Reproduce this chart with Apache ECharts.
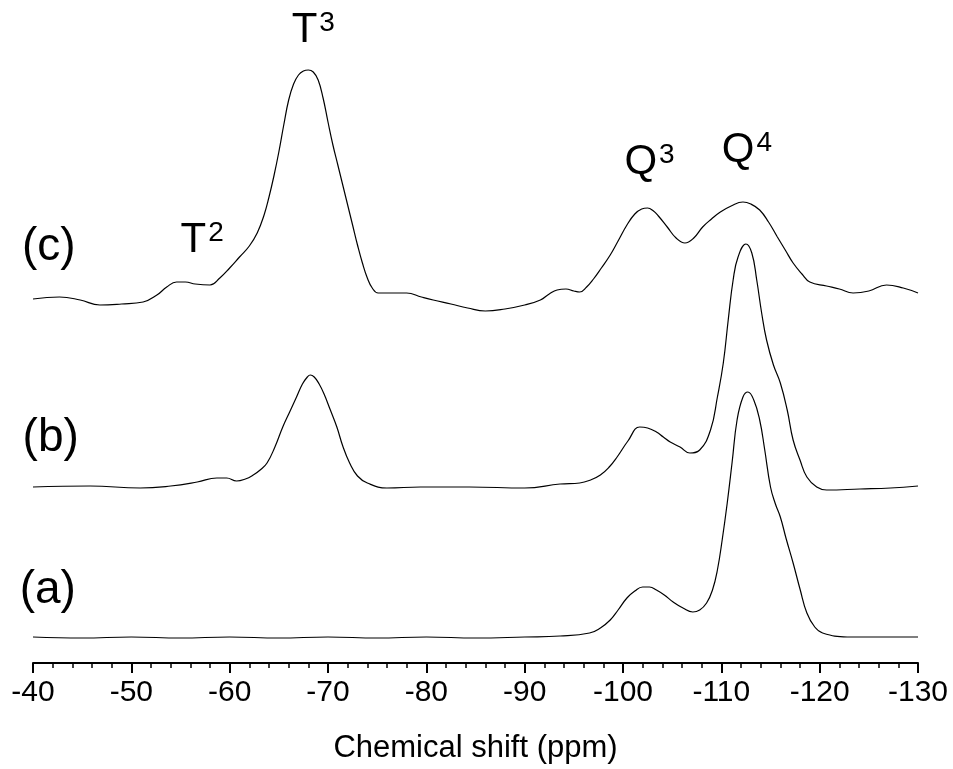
<!DOCTYPE html>
<html>
<head>
<meta charset="utf-8">
<script src="https://cdn.jsdelivr.net/npm/echarts@6/dist/echarts.min.js"></script>
<style>html,body{margin:0;padding:0;background:#fff;}#chart{width:953px;height:769px;}</style>
</head>
<body>
<div id="chart"></div>
<script>
// Chemical shift (ppm) and intensity (above each trace's baseline)
const shiftA = [-40,-45,-50,-55,-60,-65,-70,-75,-80,-85,-90,-93.6,-96.6,-97.7,-98.7,-99.5,-100.4,-101.2,-102,-102.7,-103.4,-104.2,-105.1,-106.1,-107.1,-107.8,-108.5,-109.1,-109.6,-110.1,-110.6,-111.1,-111.6,-112.2,-112.7,-113.3,-113.9,-114.4,-115,-115.5,-116,-116.6,-117.3,-118,-118.7,-119.5,-120.3,-122.8,-126,-130];
const intensityA = [0,-1,0,-1,0,-1,0,-1,0,-1,0,1,4,9,17,27,39,46,50,50,47,42,35,29,25,27,34,47,67,98,134,175,217,240,245,237,217,188,150,133,120,98,74,48,24,10,4,0,0,0];

const shiftB = [-40,-45.8,-50.9,-54,-56.7,-58.7,-59.7,-60.7,-61.6,-62.4,-63.1,-63.8,-64.6,-65.4,-66.1,-66.8,-67.4,-67.9,-68.2,-68.6,-69.1,-69.6,-70.2,-70.9,-71.5,-72.2,-73,-74,-76,-79.4,-84.4,-90,-93.6,-95.6,-96.7,-97.7,-98.6,-99.4,-100.5,-101.7,-102.5,-103.4,-104.1,-104.8,-105.8,-106.8,-107.8,-108.9,-109.6,-110.2,-110.7,-111.2,-111.7,-112.5,-113.1,-113.6,-114.1,-114.6,-115.3,-116,-116.7,-117.3,-118,-118.7,-119.7,-120.7,-124.1,-127.2,-130];
const intensityB = [1,2,0,2,6,10,10,7,9,13,18,25,41,61,76,91,104,111,113,111,104,94,79,61,42,25,12,5,0,1,1,0,4,5,8,13,21,31,47,61,60,56,51,46,41,35,38,58,91,125,168,208,231,244,235,208,175,148,123,105,78,48,28,11,1,-2,-1,0,2];

const shiftC = [-40,-42.7,-44.8,-46.8,-49,-51.2,-52.6,-53.6,-54.6,-55.5,-56.5,-58,-59,-60,-61,-62,-62.8,-63.5,-64,-64.5,-65,-65.5,-66,-66.5,-67,-67.5,-68,-68.5,-69,-69.5,-70,-70.5,-71,-71.5,-72,-72.5,-73,-73.5,-74,-74.5,-75.1,-76.5,-78,-79.5,-80.7,-82.5,-84.2,-86,-88,-90,-91.6,-92.5,-93.3,-94.2,-95,-95.6,-96.3,-97,-97.8,-98.7,-99.5,-100.4,-101.2,-101.9,-102.5,-103.1,-103.6,-104.5,-105.4,-106.3,-107.2,-108.1,-109,-109.9,-111,-112.2,-113,-113.9,-114.8,-115.7,-116.5,-117.3,-118.2,-119,-120.7,-122,-123.4,-125,-126.8,-128.5,-130];
const intensityC = [1,3,0,-5,-4,-2,5,13,18,18,16,15,22,32,43,54,67,85,103,124,148,175,200,216,225,229,230,228,220,202,178,155,135,115,95,75,55,37,22,12,7,7,7,3,0,-4,-8,-11,-9,-5,0,6,10,11,9,8,13,21,32,45,59,75,86,91,92,89,84,73,62,57,62,73,81,88,94,98,96,90,78,63,50,37,26,18,14,11,7,9,15,12,7];

// vertical stacking offsets of the three traces
const offsetA = 26, offsetB = 175, offsetC = 363;

const xTicks = {min: -130, max: -40, interval: 10};

// annotation labels: [text, shift, height]
const traceLabels = [['(a)', -41.5, 73], ['(b)', -41.8, 225], ['(c)', -41.6, 416]];
const peakLabels = [['T', '2', -57.2, 423], ['T', '3', -68.5, 633], ['Q', '3', -102.7, 501], ['Q', '4', -112.6, 513]];

function build(shift, inten, off) {
  return shift.map((s, i) => [s, inten[i] + off]);
}

const FONT = 'Liberation Sans, Arial, sans-serif';
const chart = echarts.init(document.getElementById('chart'));

const markData = traceLabels.map(l => ({
  coord: [l[1], l[2]],
  label: {formatter: l[0], fontSize: 46, fontFamily: FONT, color: '#000'}
})).concat(peakLabels.map(l => ({
  coord: [l[2], l[3]],
  label: {formatter: '{m|' + l[0] + '}{s|' + l[1] + '}'}
})));

const lineStyle = {color: '#000', width: 1.2};

chart.setOption({
  animation: false,
  backgroundColor: '#fff',
  grid: {left: 33, right: 35, top: 13, bottom: 106},
  xAxis: {
    type: 'value', inverse: true,
    min: xTicks.min, max: xTicks.max, interval: xTicks.interval,
    axisLine: {show: true, onZero: false, lineStyle: {color: '#000', width: 2}},
    axisTick: {show: true, length: 10, lineStyle: {color: '#000', width: 2}},
    minorTick: {show: true, splitNumber: 5, length: 5, lineStyle: {color: '#000', width: 1.5}},
    splitLine: {show: false},
    minorSplitLine: {show: false},
    axisLabel: {fontSize: 30, color: '#000', fontFamily: FONT, margin: 15, showMinLabel: true, showMaxLabel: true},
    name: 'Chemical shift (ppm)',
    nameLocation: 'middle',
    nameGap: 70,
    nameTextStyle: {fontSize: 31, color: '#000', fontFamily: FONT}
  },
  yAxis: {type: 'value', min: 0, max: 650, show: false},
  series: [
    {type: 'line', data: build(shiftA, intensityA, offsetA), showSymbol: false, smooth: 0.45, lineStyle: lineStyle},
    {type: 'line', data: build(shiftB, intensityB, offsetB), showSymbol: false, smooth: 0.45, lineStyle: lineStyle},
    {type: 'line', data: build(shiftC, intensityC, offsetC), showSymbol: false, smooth: 0.45, lineStyle: lineStyle,
      markPoint: {
        symbol: 'circle', symbolSize: 0, silent: true,
        label: {
          show: true, position: 'inside', color: '#000', fontFamily: FONT,
          rich: {
            m: {fontSize: 42, fontFamily: FONT, color: '#000', lineHeight: 42},
            s: {fontSize: 28, fontFamily: FONT, color: '#000', verticalAlign: 'top', lineHeight: 28, padding: [0, 0, 0, 2]}
          }
        },
        data: markData
      }
    }
  ]
});
</script>
</body>
</html>
